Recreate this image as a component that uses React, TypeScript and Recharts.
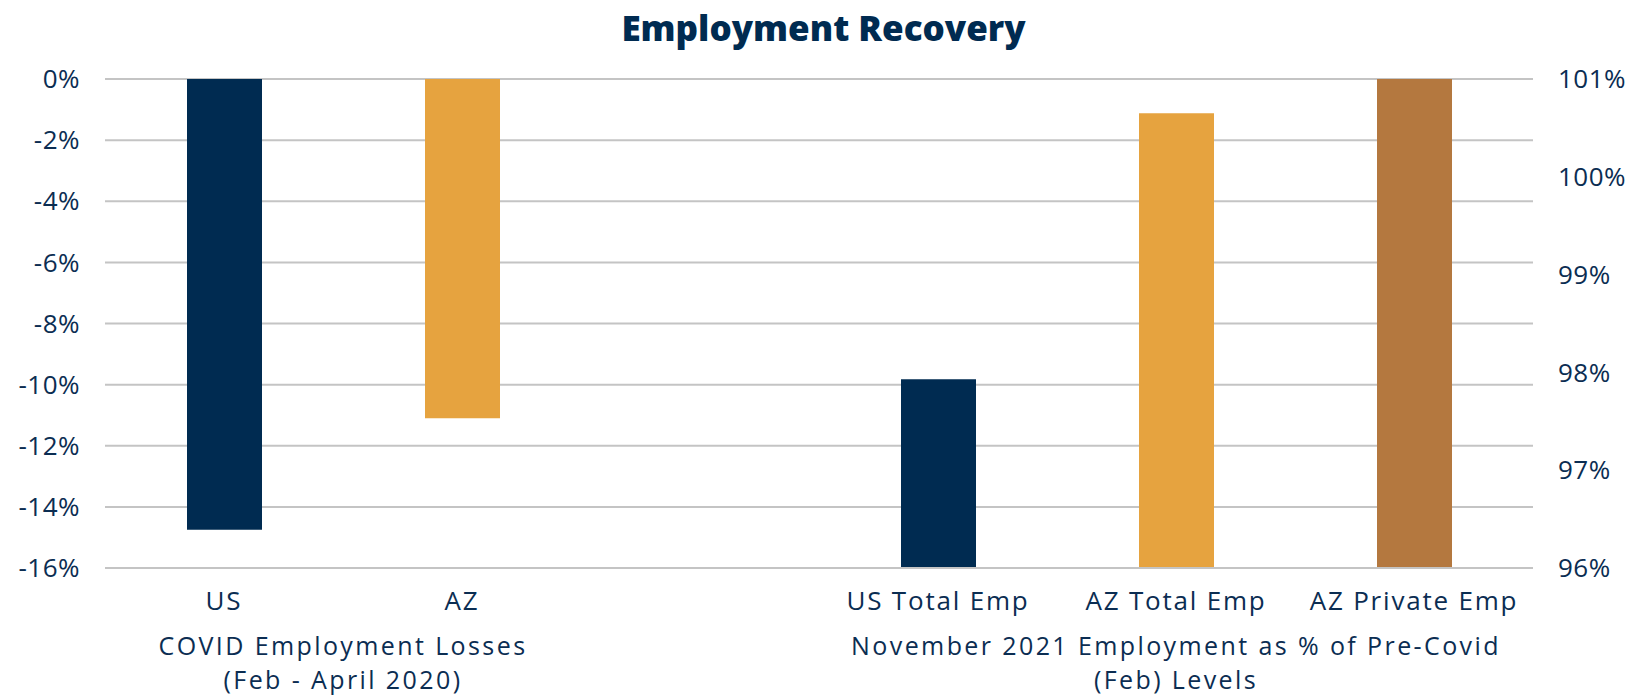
import React from "react";
import { ComposedChart, Bar, XAxis, YAxis, CartesianGrid, Cell } from "recharts";

const categories = ["US", "AZ", "", "US Total Emp", "AZ Total Emp", "AZ Private Emp"];
const lossValues: (number | null)[] = [-14.75, -11.1, null, null, null, null];
const recoveryValues: (number | null)[] = [null, null, null, 97.93, 100.65, 101.0];
const barColors = ["#002B51", "#E6A33F", "#FFFFFF", "#002B51", "#E6A33F", "#B4783F"];
const leftTicks = [0, -2, -4, -6, -8, -10, -12, -14, -16];
const rightTicks = [96, 97, 98, 99, 100, 101];
const groupLabels = [
  { first: 0, last: 1, lines: ["COVID Employment Losses", "(Feb - April 2020)"] },
  { first: 3, last: 5, lines: ["November 2021 Employment as % of Pre-Covid", "(Feb) Levels"] },
];

const data = categories.map((c, i) => ({ cat: c, loss: lossValues[i], rec: recoveryValues[i] }));

const TEXT = "#0B2D52";
const FONT = "'Open Sans', sans-serif";

const CategoryTick = (props: any) => {
  const { x, y, payload, index, width, visibleTicksCount } = props;
  const idx = payload?.index ?? index;
  const step = payload?.offset ? payload.offset * 2 : width / (visibleTicksCount || categories.length);
  const group = groupLabels.find((g) => g.first === idx);
  return (
    <g>
      <text x={x} y={y} dy="0.71em" textAnchor="middle" fill={TEXT} fontSize={26} letterSpacing={1.8} fontFamily={FONT}>
        {payload.value}
      </text>
      {group &&
        group.lines.map((line, k) => (
          <text
            key={k}
            x={x + ((group.last - group.first) * step) / 2}
            y={y + 45 + k * 34.5}
            dy="0.71em"
            textAnchor="middle"
            fill={TEXT}
            fontSize={25}
            letterSpacing={2.4}
            fontFamily={FONT}
          >
            {line}
          </text>
        ))}
    </g>
  );
};

export default function App() {
  return (
    <div style={{ position: "absolute", left: 0, top: 0, width: 1647, height: 697, background: "#fff" }}>
      <div
        style={{
          position: "absolute",
          left: 0,
          top: 4,
          width: 1647,
          textAlign: "center",
          fontFamily: FONT,
          fontWeight: 800,
          fontSize: 35,
          color: "#002B51",
        }}
      >
        Employment Recovery
      </div>
      <ComposedChart
        width={1647}
        height={697}
        data={data}
        margin={{ top: 79, right: 0, bottom: 0, left: 0 }}
      >
        <CartesianGrid yAxisId="left" xAxisId="a" vertical={false} stroke="#C4C4C4" strokeWidth={2} />
        <XAxis
          xAxisId="a"
          dataKey="cat"
          height={129}
          tickLine={false}
          axisLine={{ stroke: "#C4C4C4", strokeWidth: 2 }}
          tickMargin={18}
          interval={0}
          tick={<CategoryTick />}
        />
        <XAxis xAxisId="b" dataKey="cat" hide />
        <YAxis
          yAxisId="left"
          width={105}
          domain={[-16, 0]}
          ticks={leftTicks}
          allowDataOverflow
          tickLine={false}
          axisLine={false}
          tickMargin={19}
          tickFormatter={(v: number) => `${v}%`}
          tick={{ fill: TEXT, fontSize: 26, fontFamily: FONT, letterSpacing: 0.5 }}
        />
        <YAxis
          yAxisId="right"
          orientation="right"
          width={114}
          domain={[96, 101]}
          ticks={rightTicks}
          allowDataOverflow
          tickLine={false}
          axisLine={false}
          tickMargin={19}
          tickFormatter={(v: number) => `${v}%`}
          tick={{ fill: TEXT, fontSize: 26, fontFamily: FONT, letterSpacing: 0.5 }}
        />
        <Bar dataKey="loss" xAxisId="a" yAxisId="left" barSize={75} isAnimationActive={false}>
          {data.map((_, i) => (
            <Cell key={i} fill={barColors[i]} />
          ))}
        </Bar>
        <Bar dataKey="rec" xAxisId="b" yAxisId="right" barSize={75} isAnimationActive={false}>
          {data.map((_, i) => (
            <Cell key={i} fill={barColors[i]} />
          ))}
        </Bar>
      </ComposedChart>
    </div>
  );
}
